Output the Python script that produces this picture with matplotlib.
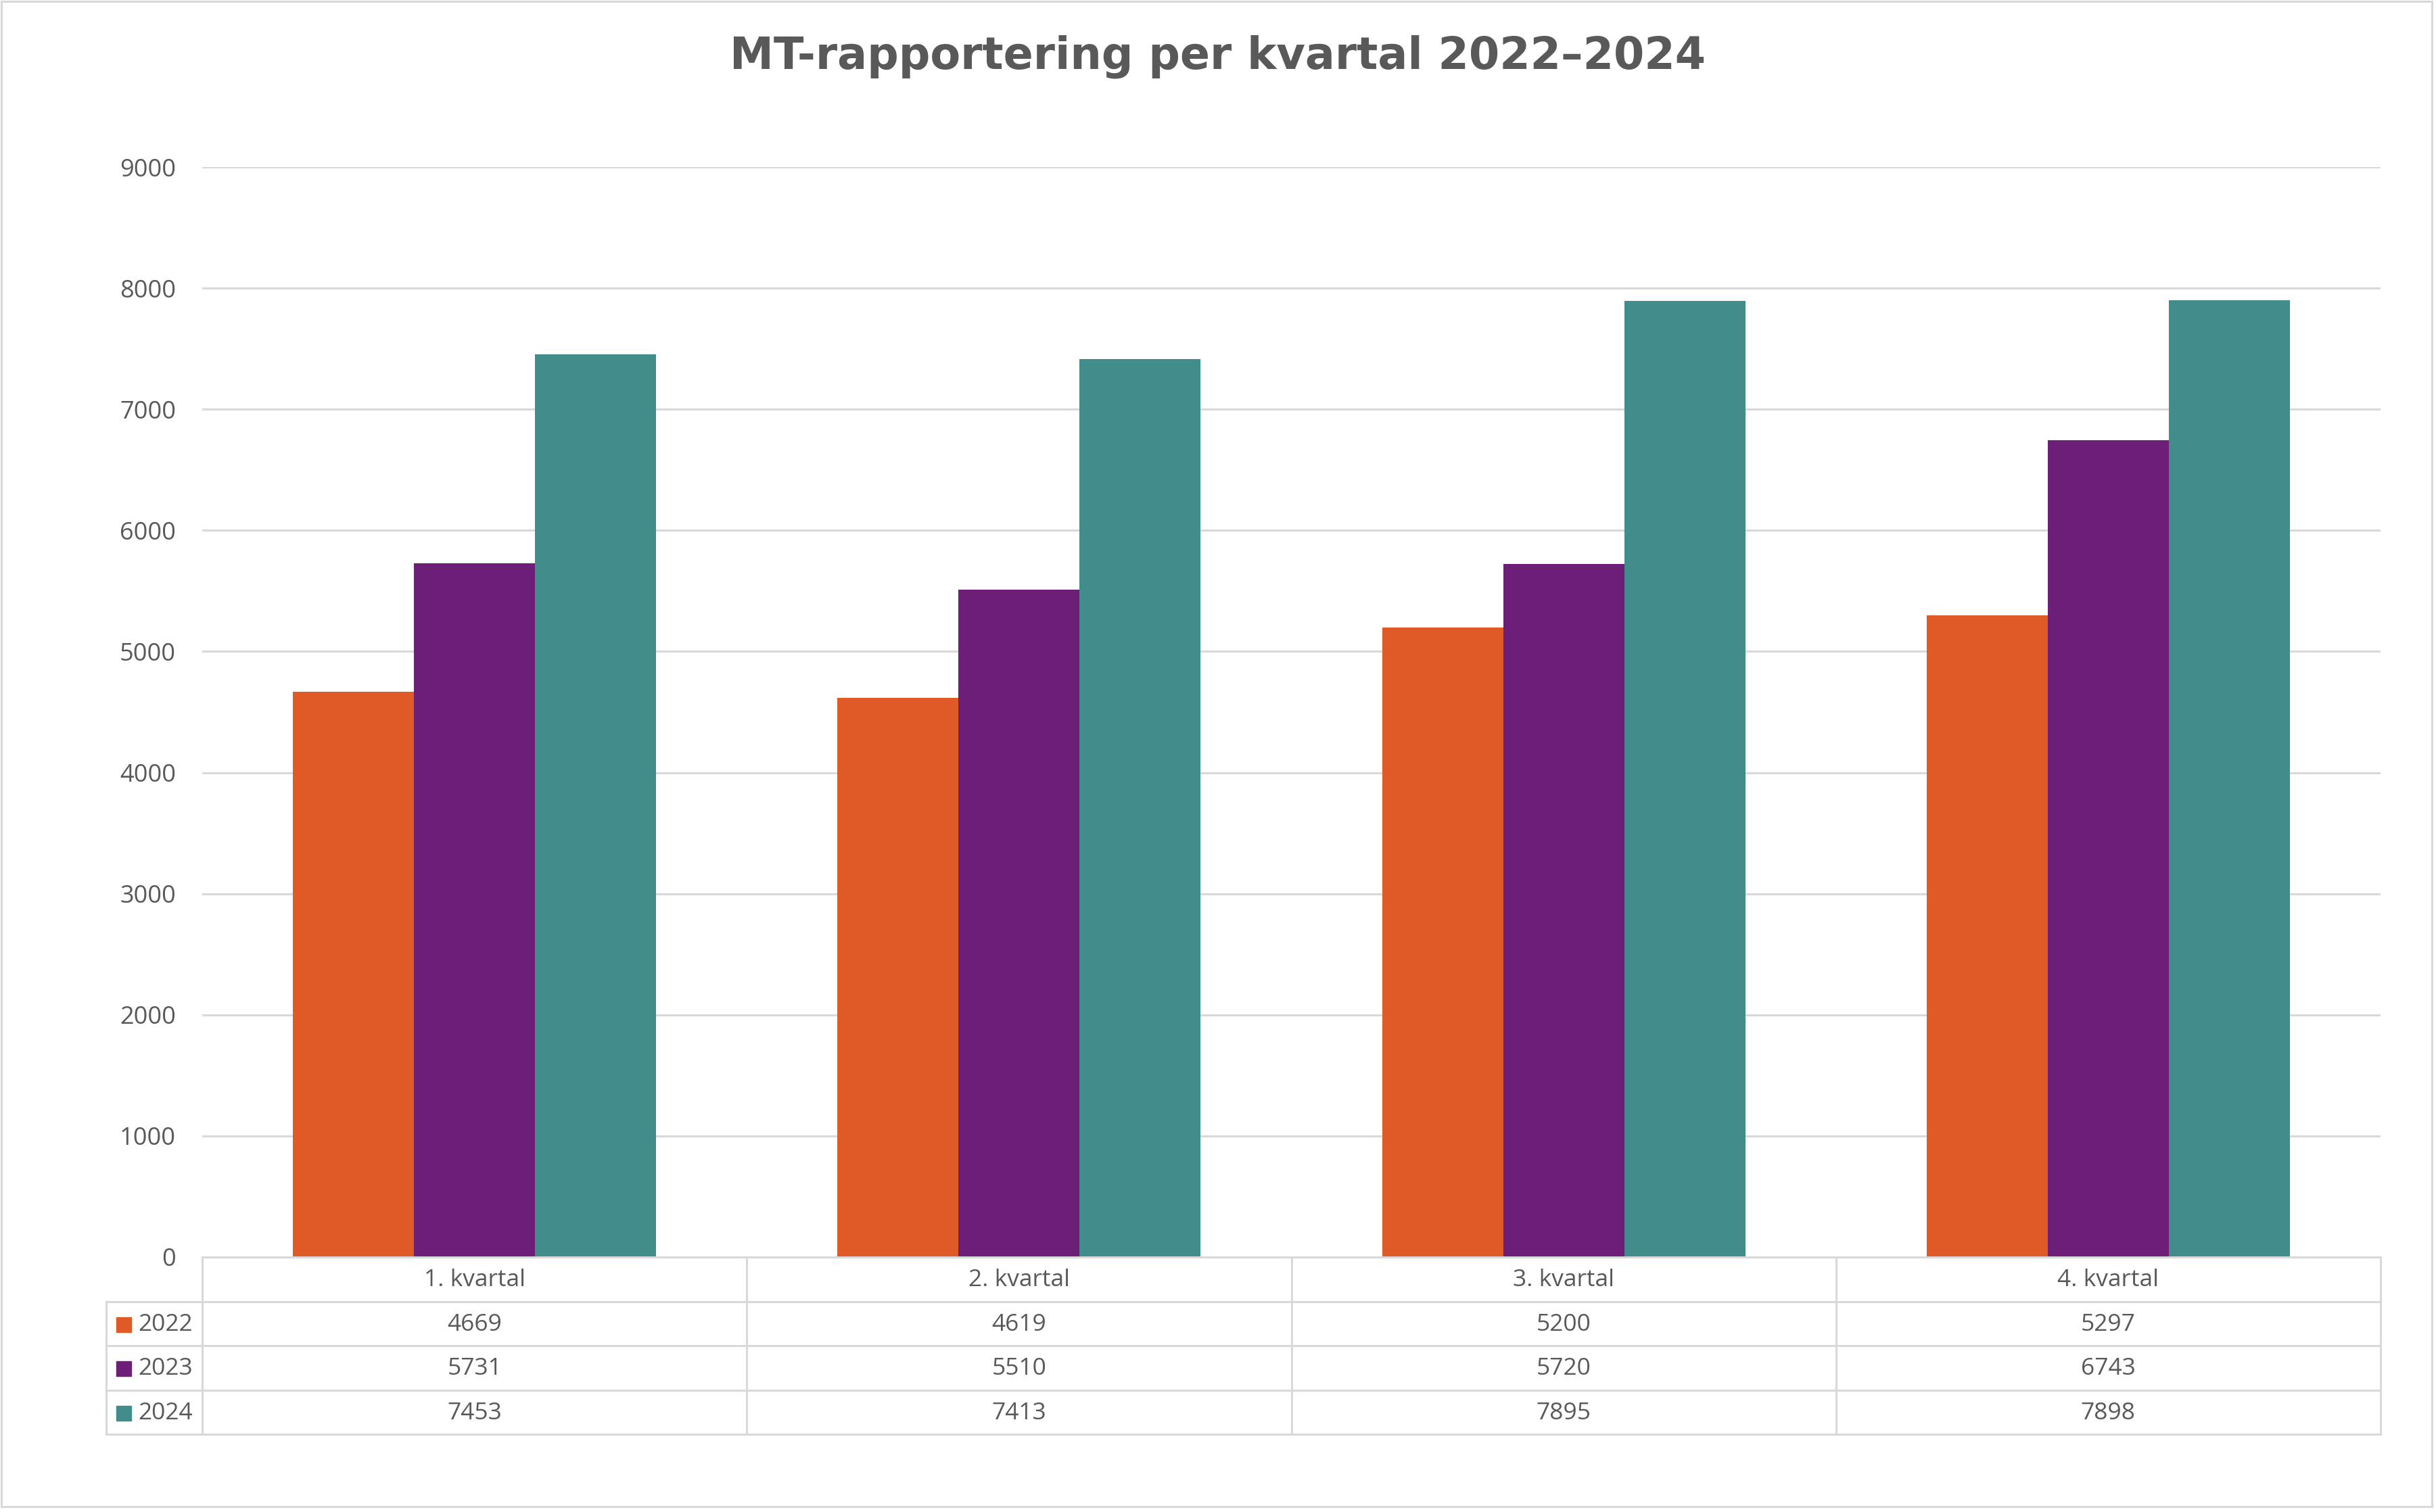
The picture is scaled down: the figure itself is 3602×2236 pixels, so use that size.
import numpy as np
import matplotlib.pyplot as plt
from matplotlib.patches import Rectangle

# data
kvartaler = ['1. kvartal', '2. kvartal', '3. kvartal', '4. kvartal']
aar = ['2022', '2023', '2024']
v2022 = [4669, 4619, 5200, 5297]
v2023 = [5731, 5510, 5720, 6743]
v2024 = [7453, 7413, 7895, 7898]
yticks = list(range(0, 9001, 1000))

serier = [v2022, v2023, v2024]
farger = ['#E05A28', '#6D1F78', '#428C8C']
tekst = '#595959'
linje = '#D9D9D9'

plt.rcParams['font.family'] = ['Open Sans', 'DejaVu Sans']

W, H = 3602, 2236
fig = plt.figure(figsize=(W / 100, H / 100), dpi=100)

# layout in pixels (from top left)
x0, x1 = 299, 3520
ytop, ybase, ybunn = 247, 1859, 2121
xleg = 157

ax = fig.add_axes([x0 / W, 1 - ybase / H, (x1 - x0) / W, (ybase - ytop) / H])
x = np.arange(len(kvartaler))
bredde = 1 / 4.5  # gap width 150 %
for i, (s, f) in enumerate(zip(serier, farger)):
    ax.bar(x + (i - 1) * bredde, s, bredde, color=f, zorder=2)
ax.set_xlim(-0.5, len(kvartaler) - 0.5)
ax.set_ylim(0, 9000)
ax.set_yticks(yticks)
ax.yaxis.grid(True, color=linje, linewidth=2.2)
ax.set_axisbelow(True)
ax.tick_params(axis='y', length=0, pad=28, labelsize=26, labelcolor=tekst)
ax.set_xticks([])
for sp in ax.spines.values():
    sp.set_visible(False)

# data table under the chart
tab = fig.add_axes([xleg / W, 1 - ybunn / H, (x1 - xleg) / W, (ybunn - ybase) / H])
kat_px = (x1 - x0) / len(kvartaler)
leg_w = (x0 - xleg) / kat_px
tab.set_xlim(-0.5 - leg_w, len(kvartaler) - 0.5)
tab.set_ylim(4, 0)
tab.axis('off')
kw = dict(color=linje, lw=2.2, clip_on=False, solid_capstyle='projecting')
tab.plot([-0.5, 3.5], [0, 0], **kw)
for r in range(1, 5):
    tab.plot([-0.5 - leg_w, 3.5], [r, r], **kw)
for k in range(5):
    tab.plot([k - 0.5, k - 0.5], [0, 4], **kw)
tab.plot([-0.5 - leg_w] * 2, [1, 4], **kw)

for k, navn in enumerate(kvartaler):
    tab.text(k, 0.52, navn, ha='center', va='center', fontsize=25.5, color=tekst)
for r, (navn, s, f) in enumerate(zip(aar, serier, farger)):
    yy = r + 1.5
    for k, v in enumerate(s):
        tab.text(k, yy + 0.02, str(v), ha='center', va='center', fontsize=25.5, color=tekst)
    tab.plot(-0.5 - leg_w + 26 / kat_px, yy + 0.02, marker='s', markersize=15.5,
             color=f, clip_on=False)
    tab.text(-0.5 - leg_w + 47 / kat_px, yy + 0.02, navn, ha='left', va='center',
             fontsize=25.5, color=tekst)

fig.text(0.5, 1 - 84 / H, 'MT-rapportering per kvartal 2022\u20132024', ha='center',
         va='center', fontsize=47, fontweight='bold', color=tekst, family='DejaVu Sans')

fig.patches.append(Rectangle((2 / W, 8 / H), (3594 / W), (2226 / H), transform=fig.transFigure,
                             fill=False, edgecolor=linje, linewidth=2.2))

fig.savefig('out.png', dpi=100, facecolor='white')
